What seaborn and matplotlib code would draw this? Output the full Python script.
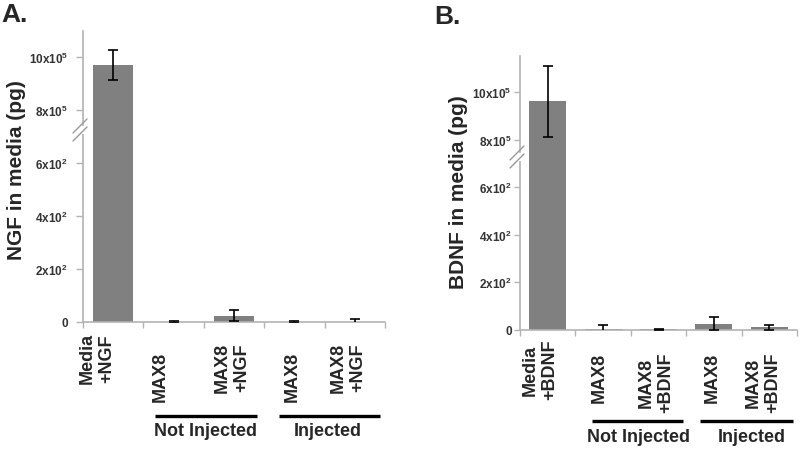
import numpy as np
import matplotlib
matplotlib.use("Agg")
import matplotlib.pyplot as plt
import matplotlib.transforms as mtransforms
from matplotlib.lines import Line2D
from matplotlib.patches import Rectangle
import seaborn as sns

# ---------------- data ----------------
cats_A = ["Media\n+NGF", "MAX8", "MAX8\n+NGF", "MAX8", "MAX8\n+NGF"]
vals_A = [9.7e5, 1, 24, 1, 1]
errs_A = [0.57e5, 4, 21, 4, 10]

cats_B = ["Media\n+BDNF", "MAX8", "MAX8\n+BDNF", "MAX8", "MAX8\n+BDNF"]
vals_B = [9.6e5, 6, 3, 27, 12]
errs_B = [1.5e5, 14, 2, 26, 10]

groups = ["Not Injected", "Injected"]
ytick_vals = [0, 200, 400, 600, 8e5, 1e6]
ytick_labels = ["0", "2x10$^{2}$", "4x10$^{2}$", "6x10$^{2}$", "8x10$^{5}$", "10x10$^{5}$"]
ylabel_A = "NGF in media (pg)"
ylabel_B = "BDNF in media (pg)"

# ---------------- style ----------------
sns.set_style("white")
plt.rcParams["font.family"] = ["Liberation Sans", "DejaVu Sans"]
plt.rcParams["mathtext.fontset"] = "custom"
plt.rcParams["mathtext.rm"] = "Liberation Sans:bold"
plt.rcParams["mathtext.bf"] = "Liberation Sans:bold"
plt.rcParams["mathtext.it"] = "Liberation Sans:bold"
plt.rcParams["mathtext.default"] = "bf"

W, H = 800, 452
fig = plt.figure(figsize=(W / 100, H / 100), dpi=100)

# broken-axis scale: low range (0..~700) and high range (>=~7e5)
_xp = [-1000.0, 680.0, 7.2e5, 2.0e6]
_fp = [-5.0, 3.4, 3.6, 10.0]


def fwd(v):
    return np.interp(v, _xp, _fp)


def inv(u):
    return np.interp(u, _fp, _xp)


BAR_COLOR = "#808080"
AX_COLOR = "#b3b3b3"
TICK_TXT = "#333333"


def px_rect(l, t, r, b):
    return [l / W, 1 - b / H, (r - l) / W, (b - t) / H]


def panel(rect, cats, vals, errs, ytop, ylabel, ylab_xy, title, title_xy,
          lab_dx, lab_dy, grp_lines, grp_text, line_dy, text_dy, ypad, ytl,
          brk):
    ax = fig.add_axes(px_rect(*rect))
    df_x = list(range(len(cats)))
    sns.barplot(x=df_x, y=vals, color=BAR_COLOR, saturation=1, width=0.67,
                errorbar=None, ax=ax, edgecolor="none")
    ax.errorbar(df_x, vals, yerr=errs, fmt="none", ecolor="black",
                elinewidth=1.2, capsize=3.5, capthick=1.2, zorder=5)
    ax.set_yscale("function", functions=(fwd, inv))
    ax.set_ylim(0, ytop)
    ax.set_xlim(-0.5, len(cats) - 0.5)
    ax.set_yticks(ytick_vals)
    ax.set_yticklabels(ytick_labels)
    ax.yaxis.set_minor_locator(matplotlib.ticker.NullLocator())
    ax.tick_params(axis="y", which="major", direction="out", length=ytl,
                   width=1, color=AX_COLOR, labelsize=8.5, labelcolor=TICK_TXT,
                   pad=ypad, left=True)
    for t in ax.get_yticklabels():
        t.set_fontweight("bold")
    ax.set_xticks(df_x)
    ax.set_xticklabels([])
    ax.tick_params(axis="x", which="major", length=0)
    ax.set_xticks(np.arange(-0.5, len(cats), 1.0), minor=True)
    ax.tick_params(axis="x", which="minor", direction="out", length=4,
                   width=1, color=AX_COLOR, bottom=True)
    ax.set_xlabel("")
    ax.set_ylabel("")
    for s in ("top", "right"):
        ax.spines[s].set_visible(False)
    for s in ("left", "bottom"):
        ax.spines[s].set_color(AX_COLOR)
        ax.spines[s].set_linewidth(1.2)

    # category labels
    for i, c in enumerate(cats):
        ax.annotate(c, xy=(i, 0), xycoords=("data", "axes fraction"),
                    xytext=(lab_dx[i], -lab_dy[i]), textcoords="offset pixels",
                    rotation=90, ha="center", va="top", multialignment="center",
                    fontsize=13, fontweight="bold", annotation_clip=False,
                    linespacing=1.2)

    # group lines and labels
    blend = mtransforms.blended_transform_factory(ax.transData, ax.transAxes)
    ltrans = mtransforms.offset_copy(blend, fig=fig, y=-line_dy, units="dots")
    ttrans = mtransforms.offset_copy(blend, fig=fig, y=-text_dy, units="dots")
    for (x0, x1), (xt, g) in zip(grp_lines, zip(grp_text, groups)):
        ax.add_line(Line2D([x0, x1], [0, 0], transform=ltrans, color="black",
                           lw=2.4, solid_capstyle="butt", clip_on=False))
        ax.text(xt, 0, g, transform=ttrans, ha="center", va="center",
                fontsize=13, fontweight="bold", clip_on=False)

    # axis break marks
    bx, by = brk
    fig.add_artist(Rectangle(((bx - 3) / W, 1 - (by + 4) / H), 6 / W, 8 / H,
                             transform=fig.transFigure, facecolor="white",
                             edgecolor="none", zorder=10))
    for dy in (-4, 4):
        cx, cy = bx - 3, by + dy
        fig.add_artist(Line2D([(cx - 7) / W, (cx + 7) / W],
                              [1 - (cy + 7) / H, 1 - (cy - 7) / H],
                              transform=fig.transFigure, color="#9a9a9a",
                              lw=1.0, zorder=11))

    fig.text(ylab_xy[0] / W, 1 - ylab_xy[1] / H, ylabel, rotation=90,
             ha="center", va="center", fontsize=15, fontweight="bold")
    fig.text(title_xy[0] / W, 1 - title_xy[1] / H, title, ha="left",
             va="center", fontsize=19, fontweight="bold")
    return ax


panel((83, 32, 385, 323), cats_A, vals_A, errs_A, 1.098e6, ylabel_A, (17, 170),
      "A.", (1, 15),
      lab_dx=[-16, -13, -2, -2, -7], lab_dy=[10, 29, 20, 29, 20],
      grp_lines=[(0.69, 2.38), (2.75, 4.42)], grp_text=[1.52, 3.56],
      line_dy=94, text_dy=109, ypad=6, ytl=5, brk=(83, 131))

panel((520, 57, 797, 331), cats_B, vals_B, errs_B, 1.151e6, ylabel_B, (459, 192),
      "B.", (434, 17),
      lab_dx=[-8, -3.5, -2.5, -1.5, -6], lab_dy=[9, 22, 22, 22, 22],
      grp_lines=[(0.80, 2.44), (2.75, 4.43)], grp_text=[1.64, 3.69],
      line_dy=91, text_dy=107, ypad=2, ytl=4, brk=(520, 158))

fig.savefig("out.png", dpi=100)
